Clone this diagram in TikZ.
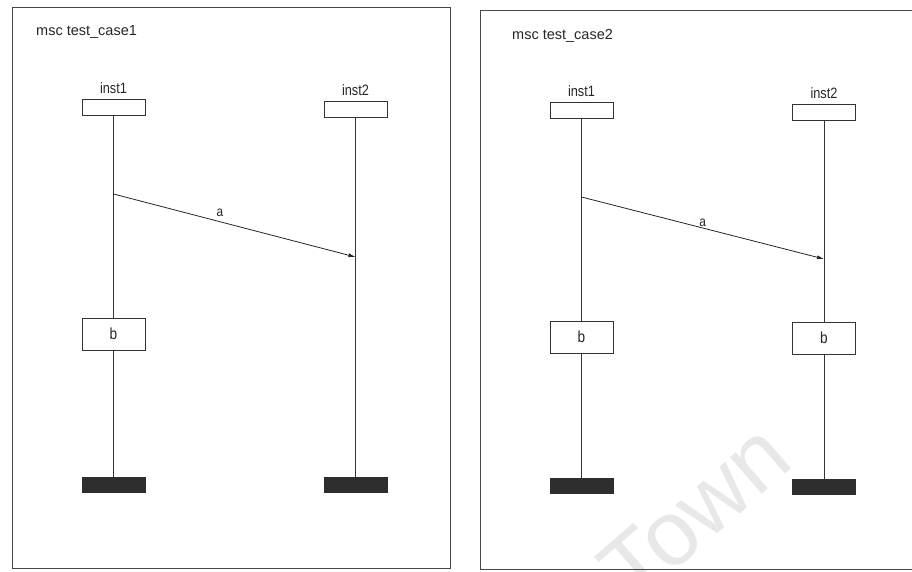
\documentclass[tikz,border=0pt]{standalone}
\usepackage{fontspec}
\setmainfont{Liberation Sans}
\newfontfamily\narrowsans[FakeStretch=0.85]{Liberation Sans}
\usetikzlibrary{positioning,arrows.meta}
\begin{document}
\begin{tikzpicture}[x=1pt,y=-1pt,
  frame/.style={draw=black!72,line width=0.9pt},
  headbox/.style={draw=black!80,line width=0.8pt,minimum width=63pt,minimum height=16pt,inner sep=0pt},
  actbox/.style={draw=black!80,line width=0.8pt,minimum width=63pt,minimum height=32pt,inner sep=0pt,font=\narrowsans\fontsize{16}{18}\selectfont,text=black!85},
  endbar/.style={fill=black!82,draw=black!82,minimum width=63pt,minimum height=15pt,inner sep=0pt},
  life/.style={draw=black!80,line width=0.7pt},
  msg/.style={draw=black!85,line width=0.8pt,-{Latex[length=7pt,width=4pt]}},
  instname/.style={font=\narrowsans\fontsize{15}{17}\selectfont,text=black!85,inner sep=0pt},
  msglbl/.style={font=\narrowsans\fontsize{14}{16}\selectfont,text=black!85,inner sep=0pt},
  ttl/.style={font=\fontsize{14.5}{17}\selectfont,text=black!85,inner sep=0pt,anchor=west}]
\useasboundingbox (0,0) rectangle (912,572);
\clip (0,0) rectangle (912,572);
\fill[white] (0,0) rectangle (912,572);
% watermark
\node[text=black!9,font=\fontsize{92}{94}\selectfont,rotate=41] (wm) at (695,512) {Town};
% ---------- left diagram ----------
\draw[frame] (12,7) rectangle (450,568);
\node[ttl] (t1) at (36,32) {msc test\_case1};
\node[headbox] (l1h) at (113.5,107.5) {};
\node[headbox] (l2h) at (355.5,109) {};
\node[instname,above=5pt of l1h] (l1n) {inst1};
\node[instname,above=5pt of l2h] (l2n) {inst2};
\node[actbox] (l1b) at (113.5,334) {b};
\node[endbar] (l1e) at (113.5,484.5) {};
\node[endbar] (l2e) at (355.5,485) {};
\coordinate (l1m) at (l1h.south |- 0,194);
\coordinate (l2m) at (l2h.south |- 0,257);
\draw[life] (l1h.south) -- (l1b.north);
\draw[life] (l1b.south) -- (l1e.north);
\draw[life] (l2h.south) -- (l2e.north);
\draw[msg] (l1m) -- node[msglbl,above=5pt,pos=0.44] {a} (l2m);
% ---------- right diagram ----------
\draw[frame] (480,10) rectangle (915,569);
\node[ttl] (t2) at (512,36) {msc test\_case2};
\node[headbox] (r1h) at (581.5,110.5) {};
\node[headbox] (r2h) at (824,112.5) {};
\node[instname,above=5pt of r1h] (r1n) {inst1};
\node[instname,above=5pt of r2h] (r2n) {inst2};
\node[actbox] (r1b) at (581.5,337) {b};
\node[actbox] (r2b) at (824,338) {b};
\node[endbar] (r1e) at (581.5,486) {};
\node[endbar] (r2e) at (824,486.5) {};
\coordinate (r1m) at (r1h.south |- 0,197);
\coordinate (r2m) at (r2h.south |- 0,259);
\draw[life] (r1h.south) -- (r1b.north);
\draw[life] (r1b.south) -- (r1e.north);
\draw[life] (r2h.south) -- (r2b.north);
\draw[life] (r2b.south) -- (r2e.north);
\draw[msg] (r1m) -- node[msglbl,above=0.5pt,pos=0.5] {a} (r2m);
\end{tikzpicture}
\end{document}
